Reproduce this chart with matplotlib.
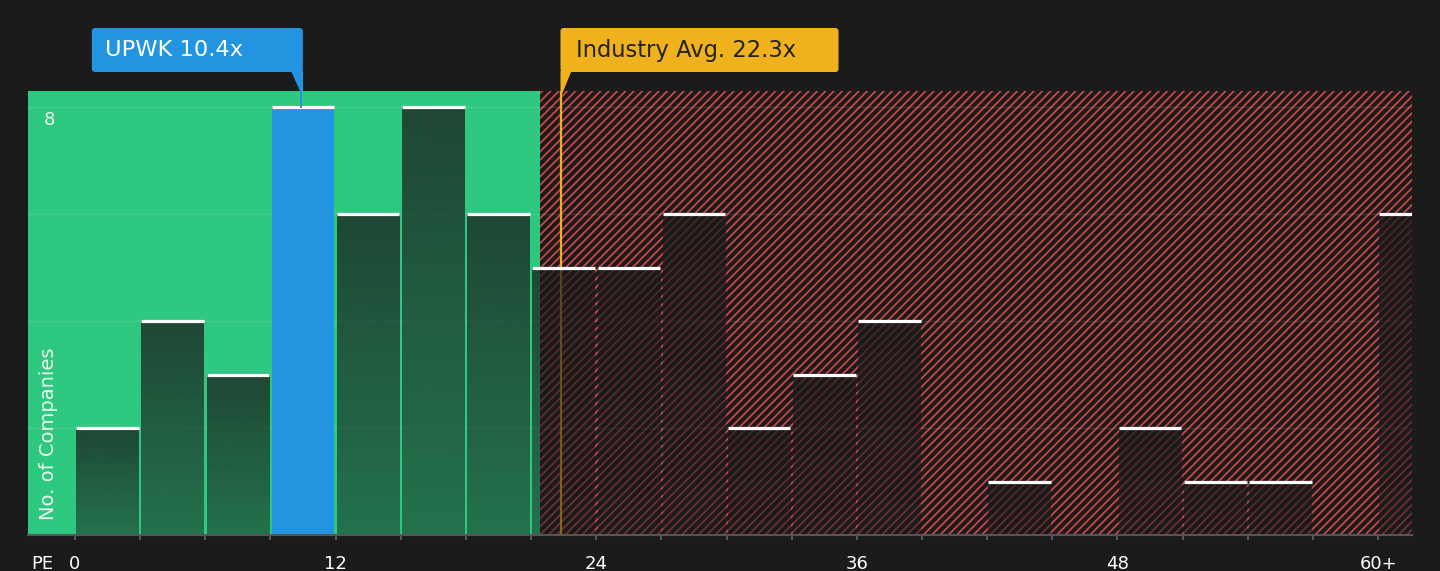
import matplotlib
matplotlib.use('Agg')
import matplotlib.pyplot as plt
import numpy as np
from matplotlib.patches import FancyBboxPatch, Polygon
from matplotlib.transforms import IdentityTransform

# ---- data ----
bin_starts = list(range(0, 61, 3))
counts = [2, 4, 3, 8, 6, 8, 6, 5, 5, 6, 2, 3, 4, 0, 1, 0, 2, 1, 1, 0, 6]
bin_width = 3
company_pe = 10.4
company_label = 'UPWK 10.4x'
industry_avg = 22.4
industry_label = 'Industry Avg. 22.3x'
fair_limit = 21.4
tick_values = [0, 12, 24, 36, 48, 60]
tick_labels = ['0', '12', '24', '36', '48', '60+']
y_ticks = [2, 4, 6, 8]

# ---- style ----
BG = '#1b1b1b'
GREEN = '#2ec880'
RED = '#c8474b'
BLUE = '#2394e0'
YELLOW = '#efb21c'

plt.rcParams['font.family'] = ['DejaVu Sans']
plt.rcParams['hatch.linewidth'] = 1.3
plt.rcParams['hatch.color'] = RED

W, H = 1440, 571
fig = plt.figure(figsize=(W / 100, H / 100), dpi=100, facecolor=BG)
ax = fig.add_axes([28 / W, 1 - 535 / H, 1384 / W, 444 / H])
ax.set_facecolor(BG)
xmin, xmax = -2.164, 61.56
ymin, ymax = 0, 8.3

# regions
ax.axvspan(xmin, fair_limit, color=GREEN, lw=0, zorder=0)
ax.axvspan(fair_limit, xmax, facecolor=BG, edgecolor=RED, hatch='////', lw=0, zorder=0)

# grid
for yv in y_ticks:
    ax.axhline(yv, color=(1, 1, 1, 0.10), lw=1, zorder=1.5)

# industry line
ax.axvline(industry_avg, color=YELLOW, lw=1.6, zorder=2)

# bars
gap = 0.06
dark = np.array([26, 26, 26]) / 255
grad = np.zeros((64, 1, 4))
grad[:, 0, :3] = dark
grad[:, 0, 3] = np.linspace(0.5, 0.74, 64)
for s, c in zip(bin_starts, counts):
    if c <= 0:
        continue
    x0, x1 = s + gap, s + bin_width - gap
    if s <= company_pe < s + bin_width:
        ax.bar(x0, c, width=x1 - x0, align='edge', color=BLUE, lw=0, zorder=3)
    else:
        ax.imshow(grad, extent=(x0, x1, 0, c), origin='lower', aspect='auto',
                  interpolation='bilinear', zorder=3)
    ax.hlines(c, x0, x1, color='white', lw=2.3, zorder=4)

ax.set_xlim(xmin, xmax)
ax.set_ylim(ymin, ymax)
ax.set_aspect('auto')

# axes styling
for sp in ['top', 'left', 'right']:
    ax.spines[sp].set_visible(False)
ax.spines['bottom'].set_color('#555555')
ax.spines['bottom'].set_linewidth(1.5)
ax.spines['bottom'].set_zorder(5)
ax.set_xticks(bin_starts)
ax.set_xticklabels([tick_labels[tick_values.index(v)] if v in tick_values else '' for v in bin_starts])
ax.tick_params(axis='x', colors='#666666', length=3.6, width=1.2, labelcolor='white',
               labelsize=13, pad=11)
ax.set_yticks([])

ax.text(0.0152, y_ticks[-1] - 0.25, '8', transform=ax.get_yaxis_transform(),
        ha='center', va='center', fontsize=13, color='#eaf6ef', zorder=6)
ax.text(0.0145, 0.034, 'No. of Companies', transform=ax.transAxes, rotation=90,
        ha='center', va='bottom', fontsize=14, color='#eaf6ef', zorder=6)
fig.text(31, H - 564, 'PE', transform=IdentityTransform(), ha='left', va='center',
         fontsize=13, color='white')

# ---- annotation boxes ----
idt = IdentityTransform()
cx = ax.transData.transform((company_pe, 0))[0]
right = cx + 2
left = right - 211
fig.patches.append(FancyBboxPatch((left, H - 72), 211, 44,
                                  boxstyle='round,pad=0,rounding_size=3',
                                  fc=BLUE, ec='none', transform=idt, figure=fig))
fig.patches.append(Polygon([(right - 11.5, H - 71), (right, H - 71), (right, H - 91), (cx - 0.5, H - 91)],
                           closed=True, fc=BLUE, ec='none', transform=idt, figure=fig))
ax.plot([company_pe, company_pe], [counts[bin_starts.index(9)], ymax], color=BLUE, lw=1.4,
        zorder=4, clip_on=False)
fig.text(left + 13, H - 50, company_label, transform=idt, ha='left', va='center',
         fontsize=16.2, color='white')

ix = ax.transData.transform((industry_avg, 0))[0]
ileft = ix - 1
fig.patches.append(FancyBboxPatch((ileft, H - 72), 278, 44,
                                  boxstyle='round,pad=0,rounding_size=3',
                                  fc=YELLOW, ec='none', transform=idt, figure=fig))
fig.patches.append(Polygon([(ileft, H - 71), (ileft + 11, H - 71), (ix + 1, H - 93), (ileft, H - 93)],
                           closed=True, fc=YELLOW, ec='none', transform=idt, figure=fig))
fig.text(ileft + 16, H - 50, industry_label, transform=idt, ha='left', va='center',
         fontsize=16.3, color='#222222')

fig.savefig('out.png', dpi=100, facecolor=BG)
